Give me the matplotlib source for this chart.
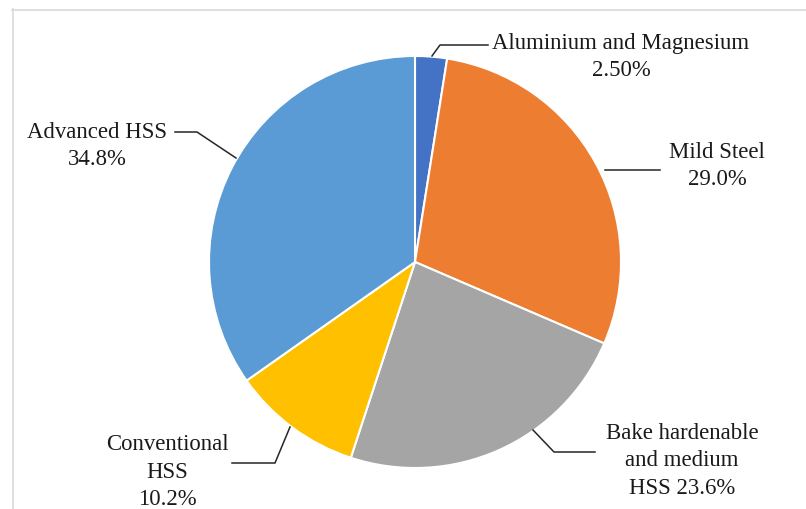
import matplotlib.pyplot as plt

# data
labels = ["Aluminium and Magnesium", "Mild Steel", "Bake hardenable and medium HSS",
          "Conventional HSS", "Advanced HSS"]
values = [2.50, 29.0, 23.6, 10.2, 34.8]
label_texts = ["Aluminium and Magnesium\n2.50%", "Mild Steel\n29.0%",
               "Bake hardenable\nand medium\nHSS 23.6%", "Conventional\nHSS\n10.2%",
               "Advanced HSS\n34.8%"]
colors = ["#4472C4", "#ED7D31", "#A5A5A5", "#FFC000", "#5B9BD5"]

W, H = 806, 509
fig = plt.figure(figsize=(W / 100, H / 100), dpi=100)
ax = fig.add_axes([0, 0, 1, 1])

cx, cy, r = 415, 262, 206
# y axis is inverted, so counterclock=True draws clockwise on screen
ax.pie(values, colors=colors, startangle=-90, counterclock=True,
       center=(cx, cy), radius=r, frame=True,
       wedgeprops=dict(edgecolor="white", linewidth=1.5))
ax.set_xlim(0, W)
ax.set_ylim(H, 0)
ax.set_aspect("equal")
ax.axis("off")

# chart border (top and left visible)
ax.plot([12, W], [9.5, 9.5], color="#d9d9d9", lw=1.2)
ax.plot([12.5, 12.5], [9, H], color="#d9d9d9", lw=1.2)

# label layout: text centre, leader polyline
text_pos = [(621, 57), (717, 166), (682, 461), (167, 472), (97, 146)]
leaders = [
    [(432, 56), (440, 45), (488, 45)],
    [(605, 170), (660, 170)],
    [(533, 430), (554, 452), (595, 452)],
    [(290, 427), (275, 463), (232, 463)],
    [(236, 158), (197, 132), (175, 132)],
]

for txt, (tx, ty), pts in zip(label_texts, text_pos, leaders):
    ax.text(tx, ty, txt, ha="center", va="center", multialignment="center",
            fontsize=16.4, family="Liberation Serif", color="#1a1a1a",
            linespacing=1.42)
    xs, ys = zip(*pts)
    ax.plot(xs, ys, color="#262626", lw=1.1)

fig.savefig("out.png", dpi=100)
